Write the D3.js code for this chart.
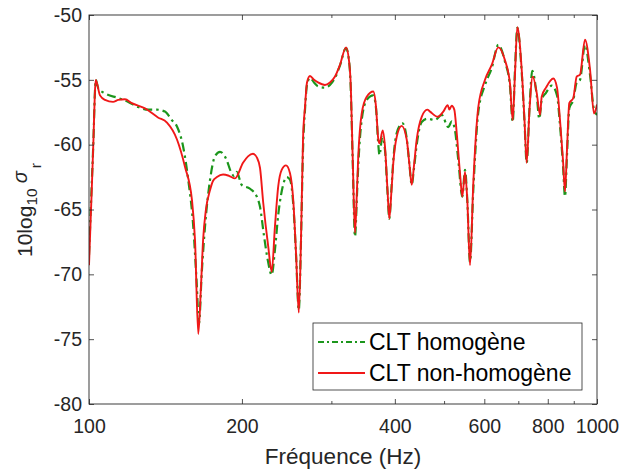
<!DOCTYPE html>
<html>
<head>
<meta charset="utf-8">
<script src="https://cdn.jsdelivr.net/npm/d3@7"></script>
<style>
  html, body { margin: 0; padding: 0; background: #fff; }
  svg { display: block; font-family: "Liberation Sans", Arial, sans-serif; }
</style>
</head>
<body>
<svg id="chart" width="620" height="471"></svg>
<script>
// ---- Data ----
const xTickValues = [100, 200, 300, 400, 500, 600, 700, 800, 900, 1000];
const xTickLabels = ["100", "200", "", "400", "", "600", "", "800", "", "1000"];
const yTickValues = [-80, -75, -70, -65, -60, -55, -50];
const yTickLabels = ["-80", "-75", "-70", "-65", "-60", "-55", "-50"];
const seriesNames = ["CLT homogène", "CLT non-homogène"];

const freqHom = [100, 101.14, 102.06, 102.66, 103.08, 104.3, 107.52, 114.2, 119.5, 125.0, 130.8, 135.9, 141.1, 145.5, 149.0, 153.3, 156.8, 160.4, 162.8, 164.6, 166.7, 169.2, 173.1, 177.0, 181.1, 186.7, 190.3, 192.9, 195.3, 199.8, 207.5, 213.9, 217.1, 221.0, 225.1, 228.9, 232.3, 235.8, 239.8, 245.0, 248.7, 252.4, 255.6, 258.8, 261.4, 263.8, 266.2, 268.6, 272.3, 277.3, 282.3, 291.4, 298.1, 305.0, 311.9, 320.6, 324.9, 327.2, 330.4, 333.9, 336.9, 338.9, 344.2, 352.1, 362.8, 367.3, 371.1, 373.1, 377.9, 382.5, 386.9, 390.1, 394.0, 397.2, 403.4, 414.1, 422.1, 427.5, 431.8, 436.3, 441.7, 451.8, 463.4, 479.8, 494.6, 509.7, 517.6, 525.4, 533.3, 543.1, 549.8, 555.5, 562.4, 570.8, 583.9, 601.9, 620.5, 639.3, 659.0, 674.1, 682.4, 689.6, 696.8, 710.8, 719.9, 727.1, 736.4, 745.8, 760.9, 769.9, 778.3, 793.6, 814.4, 834.2, 845.6, 857.2, 865.0, 872.8, 882.0, 898.2, 912.1, 925.9, 947.1, 968.8, 986.5, 1000];
const valHom = [-68.5, -63.5, -59.5, -56.2, -55.0, -55.65, -56.05, -56.4, -56.7, -57.1, -57.3, -57.3, -57.45, -58.1, -58.6, -60.2, -62.7, -66.3, -70.4, -73.8, -69.9, -66.3, -62.7, -60.9, -60.55, -61.2, -62.1, -62.4, -62.1, -63.1, -63.4, -64.0, -64.8, -67.0, -69.0, -70.05, -68.1, -65.4, -63.5, -62.5, -62.7, -64.6, -68.5, -72.75, -67.4, -60.4, -57.3, -55.4, -54.85, -55.2, -55.5, -55.6, -55.4, -54.85, -53.9, -52.55, -53.5, -55.2, -61.2, -67.1, -63.9, -61.6, -58.1, -56.55, -56.2, -57.2, -60.0, -60.8, -59.4, -60.4, -63.65, -65.7, -63.3, -61.2, -59.1, -58.35, -59.5, -61.6, -63.1, -61.8, -60.0, -58.25, -58.0, -58.1, -57.7, -58.65, -58.2, -58.9, -61.2, -64.0, -61.95, -64.3, -69.05, -63.5, -57.5, -55.4, -54.1, -52.3, -53.6, -55.5, -58.25, -54.2, -51.0, -54.4, -58.25, -61.4, -57.15, -54.3, -56.2, -58.0, -56.55, -56.0, -55.45, -56.2, -58.5, -61.6, -64.0, -60.8, -57.2, -56.55, -55.2, -55.0, -52.3, -54.6, -57.3, -57.7];

const freqNonHom = [100, 101.14, 102.06, 102.66, 103.08, 105.11, 107.52, 111.5, 114.2, 117.7, 121.4, 128.9, 136.7, 142.4, 149.0, 154.5, 159.5, 161.7, 164.1, 166.1, 167.7, 169.9, 173.1, 175.4, 178.6, 183.6, 188.6, 193.8, 201.0, 205.6, 210.3, 214.1, 217.1, 220.3, 225.4, 228.9, 232.3, 235.8, 239.5, 244.2, 248.7, 252.4, 255.6, 258.8, 261.4, 263.8, 266.2, 268.6, 272.3, 277.3, 282.3, 291.4, 298.1, 305.0, 311.9, 320.6, 324.9, 327.2, 330.4, 333.9, 336.9, 338.9, 344.2, 352.1, 362.8, 367.3, 371.1, 373.1, 378.6, 382.5, 386.9, 390.1, 394.0, 397.2, 403.4, 412.6, 422.1, 427.5, 431.8, 436.3, 441.7, 451.8, 463.4, 469.1, 485.8, 498.2, 508.3, 512.0, 517.6, 523.7, 529.5, 537.4, 543.1, 549.8, 555.5, 562.4, 570.8, 583.9, 601.9, 620.5, 639.3, 659.0, 674.1, 682.4, 689.6, 696.8, 710.8, 719.9, 727.1, 736.4, 747.2, 760.9, 772.3, 778.3, 793.6, 820.3, 834.2, 845.6, 857.2, 865.0, 872.8, 882.0, 898.2, 912.1, 925.9, 947.1, 968.8, 986.5, 1000];
const valNonHom = [-69.3, -64.0, -59.5, -56.2, -55.0, -56.2, -56.55, -56.7, -56.55, -56.5, -56.8, -57.2, -57.9, -58.3, -59.6, -61.7, -64.3, -67.4, -74.6, -71.0, -67.4, -65.0, -63.5, -62.8, -62.5, -62.3, -62.4, -62.6, -61.4, -60.9, -60.7, -61.0, -61.8, -64.5, -67.9, -69.8, -66.3, -63.2, -61.95, -61.6, -62.2, -64.3, -68.4, -72.95, -67.4, -59.6, -57.1, -55.2, -54.7, -55.0, -55.2, -55.4, -55.2, -54.75, -53.85, -52.5, -53.5, -55.0, -60.9, -66.8, -63.5, -60.9, -57.6, -56.3, -55.9, -57.1, -59.6, -59.9, -58.9, -60.15, -63.5, -65.7, -63.5, -61.4, -59.4, -58.55, -59.6, -61.6, -63.1, -61.6, -59.6, -57.85, -57.3, -57.45, -57.85, -57.45, -56.95, -57.3, -57.0, -57.3, -59.1, -62.2, -64.0, -62.1, -64.3, -69.3, -63.0, -57.1, -55.0, -53.85, -52.5, -53.5, -55.3, -58.1, -54.5, -50.95, -54.2, -58.1, -61.4, -57.3, -54.75, -56.0, -57.7, -56.3, -55.6, -54.9, -55.6, -58.1, -61.2, -63.6, -60.4, -56.8, -56.4, -54.75, -54.6, -51.9, -54.2, -57.6, -56.9];

// ---- Layout ----
const M = { left: 89, right: 597, top: 15, bottom: 404 };
const axisColor = "#262626";
const colHom = "#1c961c";
const colNonHom = "#f01818";

const svg = d3.select("#chart");

const x = d3.scaleLog().domain([100, 1000]).range([M.left, M.right]);
const y = d3.scaleLinear().domain([-80, -50]).range([M.bottom, M.top]);

svg.append("rect").attr("x", M.left).attr("y", M.top)
  .attr("width", M.right - M.left).attr("height", M.bottom - M.top).attr("fill", "#fff");

// ---- Lines ----
const line = d3.line()
  .x(d => x(d[0])).y(d => y(d[1]))
  .curve(d3.curveMonotoneX);

const homData = freqHom.map((f, i) => [f, valHom[i]]);
const nonHomData = freqNonHom.map((f, i) => [f, valNonHom[i]]);

svg.append("defs").append("clipPath").attr("id", "clip")
  .append("rect").attr("x", M.left).attr("y", M.top)
  .attr("width", M.right - M.left).attr("height", M.bottom - M.top);

const plot = svg.append("g").attr("clip-path", "url(#clip)");
plot.append("path").datum(homData)
  .attr("d", line).attr("fill", "none")
  .attr("stroke", colHom).attr("stroke-width", 2.2)
  .attr("stroke-dasharray", "9,4,2.5,4");
plot.append("path").datum(nonHomData)
  .attr("d", line).attr("fill", "none")
  .attr("stroke", colNonHom).attr("stroke-width", 1.9);

// ---- Axes ----
const majorX = [100, 200, 400, 600, 800, 1000];
const minorX = [300, 500, 700, 900];
const fmtX = d => xTickLabels[xTickValues.indexOf(d)];
const fmtY = d => yTickLabels[yTickValues.indexOf(d)];

function styleAxis(g) {
  g.select(".domain").remove();
  g.selectAll(".tick line").attr("stroke", axisColor).attr("stroke-width", 0.8);
  g.selectAll(".tick text").attr("fill", axisColor)
    .style("font-size", "19.5px").style("font-family", "'Liberation Sans', Arial, sans-serif");
}

svg.append("g").attr("transform", `translate(0,${M.bottom})`)
  .call(d3.axisBottom(x).tickValues(majorX).tickFormat(fmtX).tickSizeInner(-5).tickSizeOuter(0).tickPadding(15))
  .call(styleAxis);
svg.append("g").attr("transform", `translate(0,${M.bottom})`)
  .call(d3.axisBottom(x).tickValues(minorX).tickFormat("").tickSizeInner(-3).tickSizeOuter(0))
  .call(styleAxis);
svg.append("g").attr("transform", `translate(0,${M.top})`)
  .call(d3.axisTop(x).tickValues(majorX).tickFormat("").tickSizeInner(-5).tickSizeOuter(0))
  .call(styleAxis);
svg.append("g").attr("transform", `translate(0,${M.top})`)
  .call(d3.axisTop(x).tickValues(minorX).tickFormat("").tickSizeInner(-3).tickSizeOuter(0))
  .call(styleAxis);

svg.append("g").attr("transform", `translate(${M.left},0)`)
  .call(d3.axisLeft(y).tickValues(yTickValues).tickFormat(fmtY).tickSizeInner(-5).tickSizeOuter(0).tickPadding(7))
  .call(styleAxis);
svg.append("g").attr("transform", `translate(${M.right},0)`)
  .call(d3.axisRight(y).tickValues(yTickValues).tickFormat("").tickSizeInner(-5).tickSizeOuter(0))
  .call(styleAxis);

svg.append("rect").attr("x", M.left).attr("y", M.top)
  .attr("width", M.right - M.left).attr("height", M.bottom - M.top)
  .attr("fill", "none").attr("stroke", axisColor).attr("stroke-width", 0.9);

// ---- Axis labels ----
svg.append("text")
  .attr("x", (M.left + M.right) / 2).attr("y", 464)
  .attr("text-anchor", "middle").attr("fill", axisColor)
  .style("font-size", "22.5px")
  .text("Fréquence (Hz)");

const yl = svg.append("text")
  .attr("transform", "translate(32,257) rotate(-90)")
  .attr("text-anchor", "start").attr("fill", axisColor)
  .style("font-size", "21px");
yl.append("tspan").text("10log");
yl.append("tspan").attr("dy", 5).style("font-size", "15.5px").text("10");
yl.append("tspan").attr("dy", -10).attr("dx", 5).style("font-size", "20px").style("font-style", "italic").text("σ");
yl.append("tspan").attr("dy", 14).attr("dx", 3).style("font-size", "15.5px").text("r");

// ---- Legend ----
const lg = svg.append("g");
lg.append("rect").attr("x", 313).attr("y", 323).attr("width", 269).attr("height", 67)
  .attr("fill", "#fff").attr("stroke", axisColor).attr("stroke-width", 0.8);
const rows = [
  { name: seriesNames[0], color: colHom, dash: "6,3,2,3", w: 2.2, yc: 342 },
  { name: seriesNames[1], color: colNonHom, dash: null, w: 1.9, yc: 373 }
];
rows.forEach(r => {
  lg.append("line").attr("x1", 318).attr("x2", 365).attr("y1", r.yc).attr("y2", r.yc)
    .attr("stroke", r.color).attr("stroke-width", r.w)
    .attr("stroke-dasharray", r.dash);
  lg.append("text").attr("x", 369).attr("y", r.yc + 8)
    .attr("fill", "#000").style("font-size", "23px").text(r.name);
});
</script>
</body>
</html>
